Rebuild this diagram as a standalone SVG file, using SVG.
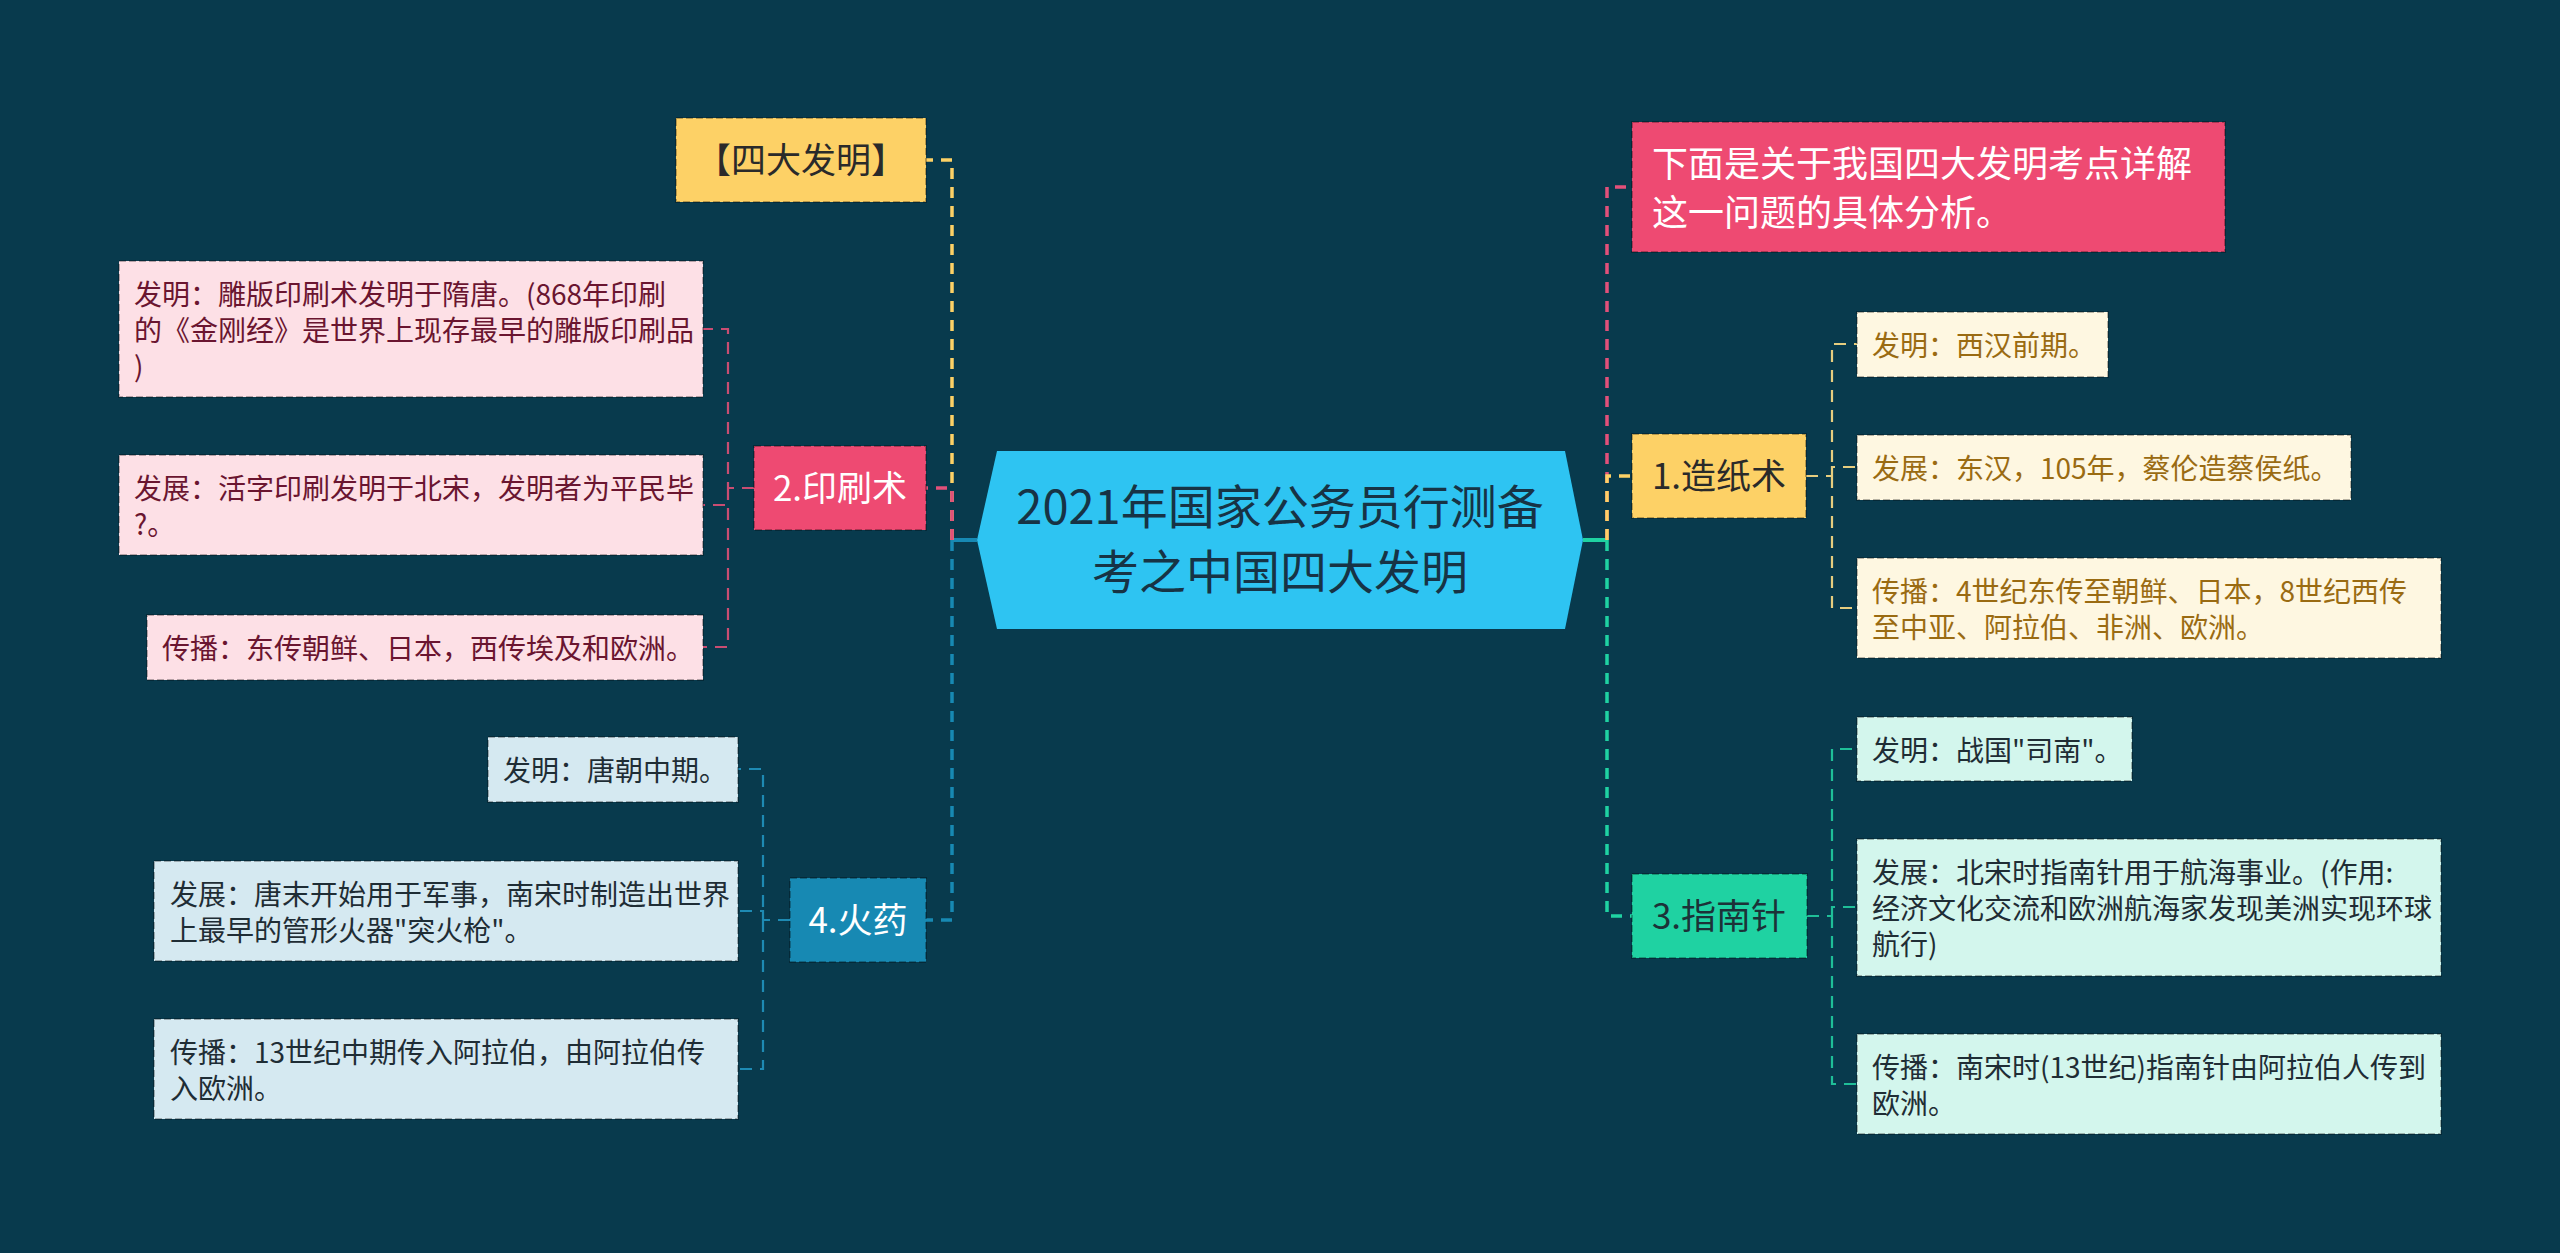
<svg xmlns="http://www.w3.org/2000/svg" width="2560" height="1253" viewBox="0 0 2560 1253">
<style>
text{font-family:"Noto Sans CJK SC","Noto Sans",sans-serif;}
.bd{stroke:#000;stroke-opacity:.28;stroke-width:2;stroke-dasharray:7 3;}
.l1{font-size:35px;text-anchor:middle;}
.lf{font-size:28px;}
.trunk{fill:none;stroke-width:3.5;stroke-dasharray:11 8;}
.leafc{fill:none;stroke-width:2.2;stroke-dasharray:12 8;}
.yel{fill:#fdd166;}
.pnk{fill:#ee4a72;}
.blu{fill:#1789b3;}
.tea{fill:#1fd2a2;}
.lp{fill:#fde0e6;}
.lc{fill:#fef7e1;}
.lb{fill:#d5e9f1;}
.lm{fill:#d3f6ed;}
.tp{fill:#6a1530;}
.tc{fill:#9a6b12;}
.td{fill:#1f2d35;}
</style>
<rect x="0" y="0" width="2560" height="1253" fill="#083a4d"/>

<g id="connectors">
  <line x1="977" y1="540" x2="952" y2="540" stroke="#1789b3" stroke-width="4"/>
  <line x1="1583" y1="540" x2="1607" y2="540" stroke="#1fd2a2" stroke-width="4"/>
  <path class="trunk" stroke="#fdd166" d="M952,540 V160 H926"/>
  <path class="trunk" stroke="#e2507a" d="M952,540 V488 H926"/>
  <path class="trunk" stroke="#1789b3" d="M952,540 V920 H926"/>
  <path class="trunk" stroke="#e2507a" d="M1607,540 V187 H1632"/>
  <path class="trunk" stroke="#fdd166" d="M1607,540 V476 H1632"/>
  <path class="trunk" stroke="#1fd2a2" d="M1607,540 V916 H1632"/>
  <path class="leafc" stroke="#c94d72" d="M754,488 H728 V329 H703 M728,488 V505 H703 M728,488 V647 H703"/>
  <path class="leafc" stroke="#1e8ab3" d="M790,920 H763 V769 H738 M763,920 V911 H738 M763,920 V1069 H738"/>
  <path class="leafc" stroke="#e6cd7f" d="M1806,476 H1832 V344 H1857 M1832,476 V467 H1857 M1832,476 V608 H1857"/>
  <path class="leafc" stroke="#1fbf98" d="M1807,916 H1832 V749 H1857 M1832,916 V907 H1857 M1832,916 V1084 H1857"/>
</g>

<g id="root">
  <polygon points="977,540 997,451 1565,451 1583,540 1565,629 997,629" fill="#2ec4f2"/>
  <text x="1280" y="524" font-size="47" text-anchor="middle" fill="#173345">2021年国家公务员行测备</text>
  <text x="1280" y="589" font-size="47" text-anchor="middle" fill="#173345">考之中国四大发明</text>
</g>

<g id="n-sidafaming">
  <rect class="yel bd" x="676" y="118" width="250" height="84"/>
  <text class="l1" x="801" y="173" fill="#2a2a2a">【四大发明】</text>
</g>
<g id="n-yinshua">
  <rect class="pnk bd" x="754" y="446" width="172" height="84"/>
  <text class="l1" x="840" y="501" fill="#ffffff">2.印刷术</text>
</g>
<g id="n-huoyao">
  <rect class="blu bd" x="790" y="878" width="136" height="84"/>
  <text class="l1" x="858" y="933" fill="#ffffff">4.火药</text>
</g>
<g id="n-summary">
  <rect class="pnk bd" x="1632" y="122" width="593" height="130"/>
  <text x="1652" y="177" font-size="36" fill="#ffffff">下面是关于我国四大发明考点详解</text>
  <text x="1652" y="226" font-size="36" fill="#ffffff">这一问题的具体分析。</text>
</g>
<g id="n-zaozhi">
  <rect class="yel bd" x="1632" y="434" width="174" height="84"/>
  <text class="l1" x="1719" y="489" fill="#2a2a2a">1.造纸术</text>
</g>
<g id="n-zhinan">
  <rect class="tea bd" x="1632" y="874" width="175" height="84"/>
  <text class="l1" x="1719" y="929" fill="#1c3238">3.指南针</text>
</g>

<g id="p1">
  <rect class="lp bd" x="119" y="261" width="584" height="136"/>
  <text class="lf tp" x="134" y="305">发明：雕版印刷术发明于隋唐。(868年印刷</text>
  <text class="lf tp" x="134" y="341">的《金刚经》是世界上现存最早的雕版印刷品</text>
  <text class="lf tp" x="134" y="377">)</text>
</g>
<g id="p2">
  <rect class="lp bd" x="119" y="455" width="584" height="100"/>
  <text class="lf tp" x="134" y="499">发展：活字印刷发明于北宋，发明者为平民毕</text>
  <text class="lf tp" x="134" y="535">?。</text>
</g>
<g id="p3">
  <rect class="lp bd" x="147" y="615" width="556" height="65"/>
  <text class="lf tp" x="162" y="659">传播：东传朝鲜、日本，西传埃及和欧洲。</text>
</g>

<g id="f1">
  <rect class="lb bd" x="488" y="737" width="250" height="65"/>
  <text class="lf td" x="503" y="781">发明：唐朝中期。</text>
</g>
<g id="f2">
  <rect class="lb bd" x="154" y="861" width="584" height="100"/>
  <text class="lf td" x="170" y="905">发展：唐末开始用于军事，南宋时制造出世界</text>
  <text class="lf td" x="170" y="941">上最早的管形火器"突火枪"。</text>
</g>
<g id="f3">
  <rect class="lb bd" x="154" y="1019" width="584" height="100"/>
  <text class="lf td" x="170" y="1063">传播：13世纪中期传入阿拉伯，由阿拉伯传</text>
  <text class="lf td" x="170" y="1099">入欧洲。</text>
</g>

<g id="z1">
  <rect class="lc bd" x="1857" y="312" width="251" height="65"/>
  <text class="lf tc" x="1872" y="356">发明：西汉前期。</text>
</g>
<g id="z2">
  <rect class="lc bd" x="1857" y="435" width="494" height="65"/>
  <text class="lf tc" x="1872" y="479">发展：东汉，105年，蔡伦造蔡侯纸。</text>
</g>
<g id="z3">
  <rect class="lc bd" x="1857" y="558" width="584" height="100"/>
  <text class="lf tc" x="1872" y="602">传播：4世纪东传至朝鲜、日本，8世纪西传</text>
  <text class="lf tc" x="1872" y="638">至中亚、阿拉伯、非洲、欧洲。</text>
</g>

<g id="c1">
  <rect class="lm bd" x="1857" y="717" width="275" height="64"/>
  <text class="lf td" x="1872" y="761">发明：战国"司南"。</text>
</g>
<g id="c2">
  <rect class="lm bd" x="1857" y="839" width="584" height="137"/>
  <text class="lf td" x="1872" y="883">发展：北宋时指南针用于航海事业。(作用:</text>
  <text class="lf td" x="1872" y="919">经济文化交流和欧洲航海家发现美洲实现环球</text>
  <text class="lf td" x="1872" y="955">航行)</text>
</g>
<g id="c3">
  <rect class="lm bd" x="1857" y="1034" width="584" height="100"/>
  <text class="lf td" x="1872" y="1078">传播：南宋时(13世纪)指南针由阿拉伯人传到</text>
  <text class="lf td" x="1872" y="1114">欧洲。</text>
</g>
</svg>
